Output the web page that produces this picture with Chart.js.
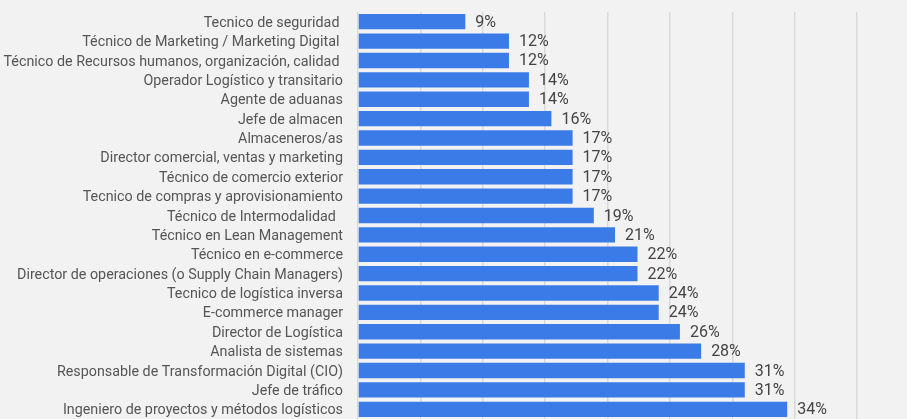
<!DOCTYPE html>
<html>
<head>
<meta charset="utf-8">
<script src="https://cdn.jsdelivr.net/npm/chart.js@4.4.1/dist/chart.umd.min.js"></script>
<style>
  html, body { margin: 0; padding: 0; background: #f2f2f2; }
  #wrap { width: 907px; height: 419px; }
</style>
</head>
<body>
<div id="wrap"><canvas id="puestosChart" width="907" height="419"></canvas></div>
<script>
const puestos = [
    'Tecnico de seguridad ',
    'Técnico de Marketing / Marketing Digital ',
    'Técnico de Recursos humanos, organización, calidad ',
    'Operador Logístico y transitario',
    'Agente de aduanas',
    'Jefe de almacen',
    'Almaceneros/as',
    'Director comercial, ventas y marketing',
    'Técnico de comercio exterior',
    'Tecnico de compras y aprovisionamiento',
    'Técnico de Intermodalidad  ',
    'Técnico en Lean Management',
    'Técnico en e-commerce',
    'Director de operaciones (o Supply Chain Managers)',
    'Tecnico de logística inversa',
    'E-commerce manager',
    'Director de Logística',
    'Analista de sistemas',
    'Responsable de Transformación Digital (CIO)',
    'Jefe de tráfico',
    'Ingeniero de proyectos y métodos logísticos'
];

const porcentajes = [
    8.6, 12.1, 12.1, 13.7, 13.7, 15.5, 17.2, 17.2, 17.2, 17.2, 18.9,
    20.6, 22.4, 22.4, 24.1, 24.1, 25.8, 27.5, 31.0, 31.0, 34.4
];

const ejeMax = 44;
const ejePaso = 5;

// etiquetas de valor al final de cada barra
const etiquetasValor = {
    id: 'etiquetasValor',
    afterDatasetsDraw(chart) {
        const ctx = chart.ctx;
        const meta = chart.getDatasetMeta(0);
        ctx.save();
        ctx.font = '16px Roboto';
        ctx.fillStyle = '#444';
        ctx.textAlign = 'left';
        ctx.textBaseline = 'middle';
        meta.data.forEach((bar, i) => {
            const v = chart.data.datasets[0].data[i];
            ctx.fillText(Math.round(v) + '%', bar.x + 10, bar.y + 1);
        });
        ctx.restore();
    }
};

function crearGrafico() {
    const ctx = document.getElementById('puestosChart').getContext('2d');

    new Chart(ctx, {
        type: 'bar',
        data: {
            labels: puestos,
            datasets: [{
                data: porcentajes,
                backgroundColor: '#3b7be8',
                barPercentage: 0.88,
                categoryPercentage: 0.9
            }]
        },
        options: {
            indexAxis: 'y',
            responsive: false,
            animation: false,
            layout: { padding: { top: 12, right: 0, bottom: -1, left: 0 } },
            plugins: {
                legend: { display: false },
                tooltip: { enabled: false }
            },
            scales: {
                x: {
                    min: 0,
                    max: ejeMax,
                    afterFit: (scale) => { scale.height = 0; },
                    ticks: { display: false, stepSize: ejePaso },
                    border: { display: false },
                    grid: {
                        drawTicks: false,
                        lineWidth: 1.5,
                        color: (c) => (c.tick && c.tick.value % ejePaso === 0) ? '#d9d9d9' : 'rgba(0,0,0,0)'
                    }
                },
                y: {
                    afterFit: (scale) => {
                        scale.width = 358;
                        scale.paddingTop = 0;
                        scale.paddingBottom = 0;
                    },
                    ticks: {
                        color: '#555',
                        font: { family: 'Roboto', size: 14.3 },
                        padding: 15,
                        labelOffset: 1.5,
                        autoSkip: false
                    },
                    border: { display: false },
                    grid: { display: false, drawTicks: false }
                }
            }
        },
        plugins: [etiquetasValor]
    });
}

document.addEventListener('DOMContentLoaded', crearGrafico);
</script>
</body>
</html>
